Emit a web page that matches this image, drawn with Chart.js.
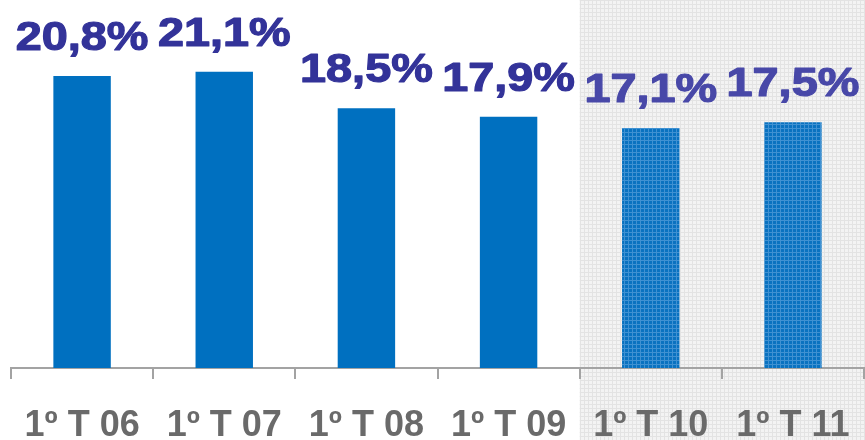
<!DOCTYPE html>
<html>
<head>
<meta charset="utf-8">
<script src="https://cdn.jsdelivr.net/npm/chart.js@4"></script>
<style>
  html, body { margin: 0; padding: 0; background: #fff; }
  canvas { display: block; }
</style>
</head>
<body>
<canvas id="grafik" width="865" height="440"></canvas>
<script>
// Veriler
const periodos = ['1º T 06', '1º T 07', '1º T 08', '1º T 09', '1º T 10', '1º T 11'];
const valores = [20.8, 21.1, 18.5, 17.9, 17.1, 17.5];
const destaqueDesde = 4; // a partir daqui a área fica sombreada

// pequeno padrão quadriculado (fundo e barras destacadas)
function criaPadrao(base, linha) {
    const c = document.createElement('canvas');
    c.width = 4; c.height = 4;
    const g = c.getContext('2d');
    g.fillStyle = base;
    g.fillRect(0, 0, 4, 4);
    g.fillStyle = linha;
    g.fillRect(0, 0, 4, 1);
    g.fillRect(0, 0, 1, 4);
    return g.createPattern(c, 'repeat');
}

const ctx = document.getElementById('grafik').getContext('2d');
const fundoPadrao = criaPadrao('#f3f3f3', '#e3e3e3');
const barraPadrao = criaPadrao('#0a72c0', '#3f91d2');

const cores = valores.map((v, i) => i >= destaqueDesde ? barraPadrao : '#0070c0');

// sombreado da área direita
const sombraPlugin = {
    id: 'sombra',
    beforeDraw(chart) {
        const x = chart.scales.x;
        const inicio = (x.getPixelForValue(destaqueDesde - 1) + x.getPixelForValue(destaqueDesde)) / 2;
        const c = chart.ctx;
        c.save();
        c.fillStyle = fundoPadrao;
        c.fillRect(inicio, 0, chart.width - inicio, chart.height);
        c.restore();
    }
};

// rótulos de valor acima das barras
const rotuloPlugin = {
    id: 'rotulos',
    afterDatasetsDraw(chart) {
        const c = chart.ctx;
        const meta = chart.getDatasetMeta(0);
        c.save();
        c.font = 'bold 40px "Liberation Sans", Arial, sans-serif';
        c.textAlign = 'center';
        c.textBaseline = 'alphabetic';
        c.lineWidth = 1.2;
        c.lineJoin = 'round';
        meta.data.forEach((barra, i) => {
            const texto = valores[i].toFixed(1).replace('.', ',') + '%';
            const cor = i >= destaqueDesde ? '#4848a8' : '#333399';
            c.fillStyle = cor;
            c.strokeStyle = cor;
            c.save();
            c.translate(barra.x, barra.y - 26);
            c.scale(1.17, 1);
            c.fillText(texto, 0, 0);
            c.strokeText(texto, 0, 0);
            c.restore();
        });
        c.restore();
    }
};

new Chart(ctx, {
    type: 'bar',
    data: {
        labels: periodos,
        datasets: [{
            data: valores,
            backgroundColor: cores,
            borderWidth: 0,
            barPercentage: 0.404,
            categoryPercentage: 1
        }]
    },
    options: {
        responsive: false,
        animation: false,
        layout: { padding: { top: 17, left: 11, right: 1, bottom: 0 } },
        plugins: {
            legend: { display: false },
            tooltip: { enabled: false }
        },
        scales: {
            y: { display: false, min: 0, max: 25 },
            x: {
                offset: true,
                afterFit(escala) {
                    // eixo fixo: 72px de altura, sem folga lateral
                    escala.height = 72;
                    escala.paddingLeft = 0;
                    escala.paddingRight = 0;
                },
                border: { display: true, color: '#a3a3a3', width: 2 },
                grid: {
                    offset: true,
                    drawOnChartArea: false,
                    drawTicks: true,
                    tickLength: 11,
                    color: '#a3a3a3',
                    lineWidth: 2
                },
                ticks: {
                    color: '#6a6a6a',
                    padding: 32,
                    maxRotation: 0,
                    autoSkip: false,
                    font: { family: '"Liberation Sans", Arial, sans-serif', size: 36, weight: 'bold', lineHeight: 0.833 }
                }
            }
        }
    },
    plugins: [sombraPlugin, rotuloPlugin]
});
</script>
</body>
</html>
